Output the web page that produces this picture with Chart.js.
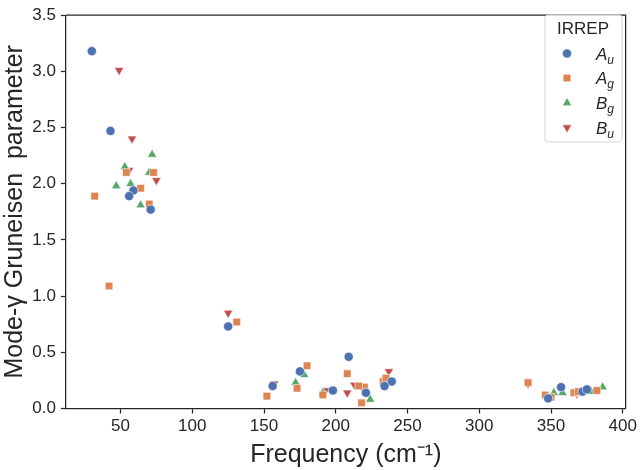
<!DOCTYPE html>
<html><head><meta charset="utf-8">
<script src="https://cdn.jsdelivr.net/npm/chart.js@4/dist/chart.umd.min.js"></script>
<style>html,body{margin:0;padding:0;background:#fff;}canvas{display:block;}</style>
</head><body>
<canvas id="c" width="640" height="470" style="width:640px;height:470px"></canvas>
<script>
// ---- data ----
const auFreq  = [30, 43, 59, 56, 71, 125, 156, 175, 198, 209, 221, 239, 234, 348, 357, 372, 375];
const auGamma = [3.18, 2.47, 1.94, 1.89, 1.77, 0.73, 0.20, 0.33, 0.16, 0.46, 0.14, 0.24, 0.20, 0.09, 0.19, 0.15, 0.17];

const agFreq  = [32, 42, 54, 64, 70, 73, 131, 152, 173, 180, 191, 208, 218, 220, 216, 233, 235, 334, 346, 350, 366, 369, 382];
const agGamma = [1.89, 1.09, 2.10, 1.96, 1.82, 2.10, 0.77, 0.11, 0.18, 0.38, 0.12, 0.31, 0.05, 0.19, 0.20, 0.24, 0.27, 0.23, 0.12, 0.10, 0.14, 0.15, 0.16];

const bgFreq  = [47, 53, 57, 64, 70, 72, 172, 178, 191, 224, 352, 358, 378, 386];
const bgGamma = [1.98, 2.15, 2.00, 1.81, 2.10, 2.26, 0.23, 0.30, 0.14, 0.08, 0.14, 0.14, 0.15, 0.19];

const buFreq  = [49, 58, 56, 75, 125, 157, 176, 193, 208, 213, 237, 334, 368];
const buGamma = [3.01, 2.40, 2.12, 2.03, 0.85, 0.22, 0.33, 0.16, 0.14, 0.21, 0.33, 0.22, 0.13];

const seriesBase = ['A', 'A', 'B', 'B'];
const seriesSub  = ['u', 'g', 'g', 'u'];
const xTickValues = [50, 100, 150, 200, 250, 300, 350, 400];
const yTickLabels = ['0.0', '0.5', '1.0', '1.5', '2.0', '2.5', '3.0', '3.5'];
const legendTitle = 'IRREP';
const xTitle = 'Frequency (cm\u207B\u00B9)';
const yTitle = 'Mode-\u03B3 Gruneisen  parameter';

// ---- styles ----
const FONT = '"Liberation Sans", Arial, Helvetica, sans-serif';
const INK = '#262626';
const colors = ['#4C72B0', '#DD8452', '#55A868', '#C44E52'];
const styles = [
  {pointStyle: 'circle', radius: 4.6, rotation: 0},
  {pointStyle: 'rect', radius: 5.4, rotation: 0},
  {pointStyle: 'triangle', radius: 5.4, rotation: 0},
  {pointStyle: 'triangle', radius: 5.4, rotation: 180}
];

function pts(xs, ys) { return xs.map((x, i) => ({x: x, y: ys[i]})); }
const seriesData = [pts(auFreq, auGamma), pts(agFreq, agGamma), pts(bgFreq, bgGamma), pts(buFreq, buGamma)];

const datasets = seriesData.map((d, i) => ({
  label: seriesBase[i] + seriesSub[i],
  data: d,
  backgroundColor: colors[i],
  borderColor: '#ffffff',
  borderWidth: 0.6,
  pointStyle: styles[i].pointStyle,
  pointRadius: styles[i].radius,
  pointRotation: styles[i].rotation,
  pointHoverRadius: styles[i].radius
}));

const framePlugin = {
  id: 'frame',
  afterDatasetsDraw(chart) {
    const {ctx, chartArea: a} = chart;
    ctx.save();
    ctx.strokeStyle = INK;
    ctx.lineWidth = 1.25;
    ctx.beginPath();
    ctx.moveTo(a.left, a.top); ctx.lineTo(a.right, a.top); ctx.lineTo(a.right, a.bottom);
    ctx.stroke();
    ctx.restore();
  }
};

const legendPlugin = {
  id: 'irrepLegend',
  afterDraw(chart) {
    const ctx = chart.ctx;
    const x0 = 545, y0 = 15, w = 77, h = 127, r = 3;
    ctx.save();
    ctx.beginPath();
    ctx.moveTo(x0 + r, y0);
    ctx.arcTo(x0 + w, y0, x0 + w, y0 + h, r);
    ctx.arcTo(x0 + w, y0 + h, x0, y0 + h, r);
    ctx.arcTo(x0, y0 + h, x0, y0, r);
    ctx.arcTo(x0, y0, x0 + w, y0, r);
    ctx.closePath();
    ctx.fillStyle = 'rgba(255,255,255,0.8)';
    ctx.fill();
    ctx.strokeStyle = '#d6d6d6';
    ctx.lineWidth = 1;
    ctx.stroke();

    ctx.fillStyle = INK;
    ctx.font = '17px ' + FONT;
    ctx.textAlign = 'center';
    ctx.textBaseline = 'middle';
    ctx.fillText(legendTitle, 583, 29);

    const rows = [53.5, 78, 103, 127.5];
    for (let i = 0; i < 4; i++) {
      const y = rows[i];
      ctx.fillStyle = colors[i];
      ctx.strokeStyle = '#ffffff';
      ctx.lineWidth = 0.6;
      Chart.helpers.drawPoint(ctx, {pointStyle: styles[i].pointStyle, radius: styles[i].radius, rotation: styles[i].rotation, borderWidth: 0.6}, 567, y);
      ctx.fillStyle = INK;
      ctx.textAlign = 'left';
      ctx.textBaseline = 'alphabetic';
      ctx.font = 'italic 17px ' + FONT;
      ctx.fillText(seriesBase[i], 596, y + 6);
      const wA = ctx.measureText(seriesBase[i]).width;
      ctx.font = 'italic 12px ' + FONT;
      ctx.fillText(seriesSub[i], 596 + wA, y + 10);
    }
    ctx.restore();
  }
};

new Chart(document.getElementById('c'), {
  type: 'scatter',
  data: {datasets: datasets},
  options: {
    responsive: false,
    devicePixelRatio: 1,
    animation: false,
    events: [],
    layout: {padding: {top: 5, right: 10, left: 0, bottom: 0}},
    plugins: {legend: {display: false}, tooltip: {enabled: false}},
    scales: {
      x: {
        type: 'linear',
        min: 12,
        max: 402,
        afterFit(s) { s.height = 61.5; },
        afterBuildTicks(s) { s.ticks = xTickValues.map(v => ({value: v})); },
        ticks: {color: INK, font: {family: FONT, size: 17}, padding: 3, maxRotation: 0, callback: v => String(v)},
        grid: {display: true, drawOnChartArea: false, drawTicks: true, tickLength: 5, tickWidth: 1.25, tickColor: INK},
        border: {display: true, color: INK, width: 1.25},
        title: {display: true, text: xTitle, color: INK, font: {family: FONT, size: 25, lineHeight: 1.2}, padding: {top: 0, bottom: 0}}
      },
      y: {
        type: 'linear',
        min: 0,
        max: 3.5,
        afterFit(s) { s.width = 66; },
        afterBuildTicks(s) { s.ticks = yTickLabels.map(t => ({value: parseFloat(t)})); },
        ticks: {color: INK, font: {family: FONT, size: 17}, padding: 5, callback: (v, i) => yTickLabels[i]},
        grid: {display: true, drawOnChartArea: false, drawTicks: true, tickLength: 5, tickWidth: 1.25, tickColor: INK},
        border: {display: true, color: INK, width: 1.25},
        title: {display: true, text: yTitle, color: INK, font: {family: FONT, size: 25, lineHeight: 1.2}, padding: {top: 0, bottom: 0}}
      }
    }
  },
  plugins: [framePlugin, legendPlugin]
});
</script>
</body></html>
